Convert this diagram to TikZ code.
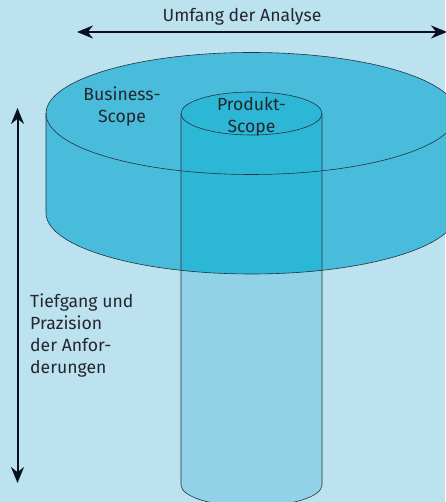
\documentclass[tikz,border=0pt]{standalone}
\usepackage{fontspec}
\setmainfont{Fira Sans}
\usetikzlibrary{arrows.meta,positioning,backgrounds}

\definecolor{paper}{RGB}{188,226,240}
\definecolor{ink}{RGB}{36,38,46}
\definecolor{rim}{RGB}{38,50,62}
\definecolor{arrowink}{RGB}{10,16,32}
\definecolor{diskfill}{RGB}{72,188,218}
\definecolor{corefill}{RGB}{45,183,214}
\definecolor{shaftfill}{RGB}{145,210,230}

\tikzset{
    outline/.style={draw=rim, line width=0.6pt},
    span/.style={
        {Stealth[length=16pt,width=13pt]}-{Stealth[length=16pt,width=13pt]},
        draw=arrowink,
        line width=2pt
    },
    label/.style={
        font=\fontsize{17.6}{22}\selectfont,
        text=ink,
        inner sep=0pt
    }
}

\begin{document}
\begin{tikzpicture}[x=1pt, y=1pt]
\fill[paper] (0,0) rectangle (445,502);
\useasboundingbox (0,0) rectangle (445,502);

% disk (business scope) and shaft (product scope) geometry
\def\cx{251.5}
\def\diskrx{205.5pt}
\def\diskry{61pt}
\def\shaftrx{70.5pt}
\def\shaftry{21.5pt}

% lower part of the shaft
\fill[shaftfill] (181,388.5) -- (181,17)
    arc[start angle=180, end angle=360, x radius=\shaftrx, y radius=\shaftry]
    -- (322,388.5) -- cycle;

% the disk
\fill[diskfill] (46,388.5) -- (46,289)
    arc[start angle=180, end angle=360, x radius=\diskrx, y radius=\diskry]
    -- (457,388.5)
    arc[start angle=0, end angle=180, x radius=\diskrx, y radius=\diskry]
    -- cycle;

% shaft seen through the disk
\begin{scope}
    \clip (46,388.5) -- (46,289)
        arc[start angle=180, end angle=360, x radius=\diskrx, y radius=\diskry]
        -- (457,388.5)
        arc[start angle=0, end angle=180, x radius=\diskrx, y radius=\diskry]
        -- cycle;
    \fill[corefill] (181,388.5) -- (181,200) -- (322,200) -- (322,388.5)
        arc[start angle=0, end angle=180, x radius=\shaftrx, y radius=\shaftry];
\end{scope}

% outlines
\draw[outline] (\cx,388.5) ellipse[x radius=\diskrx, y radius=\diskry];
\draw[outline] (46,388.5) -- (46,289)
    arc[start angle=180, end angle=360, x radius=\diskrx, y radius=\diskry]
    -- (457,388.5);
\draw[outline] (\cx,388.5) ellipse[x radius=\shaftrx, y radius=\shaftry];
\draw[outline] (181,388.5) -- (181,17)
    arc[start angle=180, end angle=360, x radius=\shaftrx, y radius=\shaftry]
    -- (322,388.5);

% scope labels
\node[label, align=center] (business) at (122,395.5) {Business-\\Scope};
\node[label, align=center] (produkt) at (251.5,385) {Produkt-\\Scope};

% breadth arrow
\coordinate (breadthL) at (77,470);
\coordinate (breadthR) at (447,470);
\draw[span] (breadthL) -- (breadthR);
\node[label] (breadth) at (242,485) {Umfang der Analyse};

% depth arrow
\coordinate (depthT) at (17.5,394);
\coordinate (depthB) at (17.5,19);
\draw[span] (depthT) -- (depthB);
\node[label, align=left, anchor=north west] (depth) at (30,208)
    {Tiefgang und\\Prazision\\der Anfor-\\derungen};
\end{tikzpicture}
\end{document}
